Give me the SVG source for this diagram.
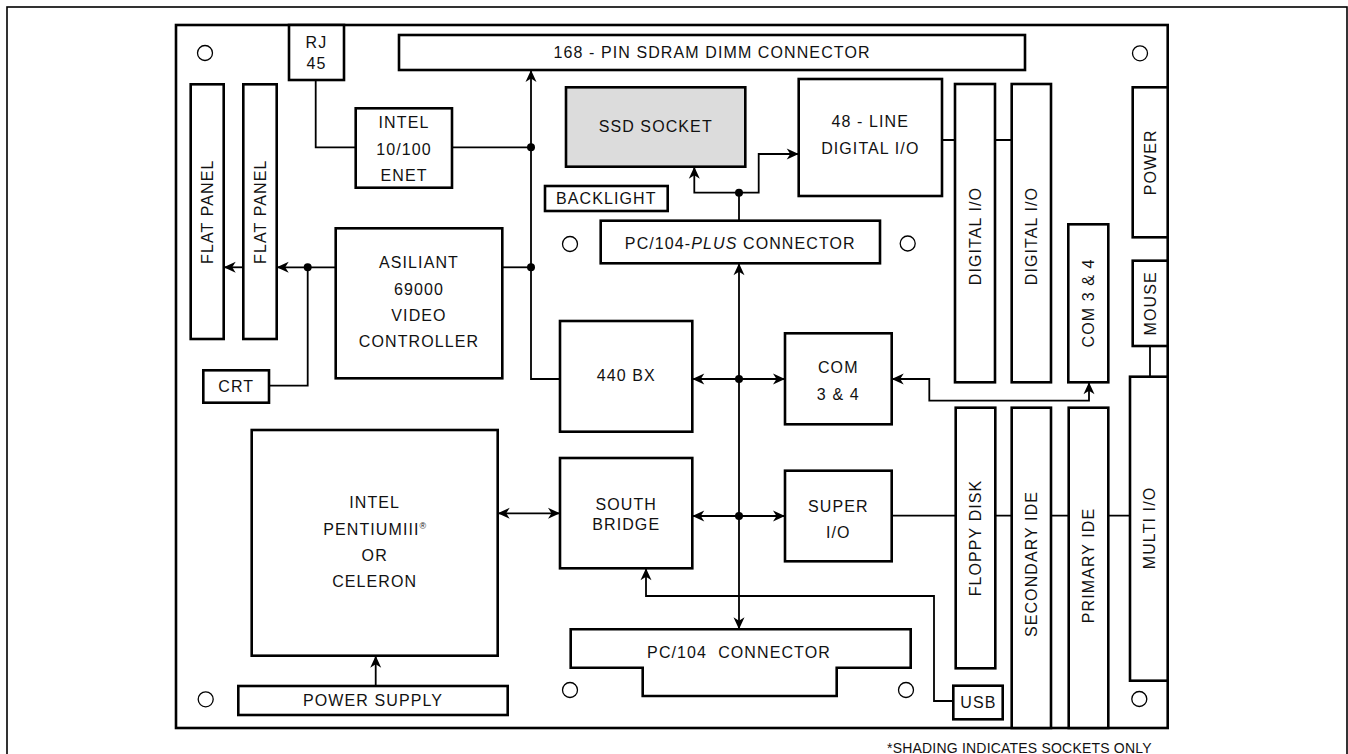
<svg xmlns="http://www.w3.org/2000/svg" width="1348" height="754" viewBox="0 0 1348 754">
<style>
.box{fill:#fff;stroke:#000;stroke-width:2.6}
.sock{fill:#dcdcdc;stroke:#000;stroke-width:2.6}
.hole{fill:#fff;stroke:#000;stroke-width:1.3}
.wire{fill:none;stroke:#000;stroke-width:1.8}
.dot{fill:#000}
text{font-family:"Liberation Sans",Arial,Helvetica,sans-serif;font-size:16px;letter-spacing:1.1px;fill:#111;text-anchor:middle}
.note{font-size:14px;letter-spacing:0.2px;text-anchor:start}
</style>
<defs>
<marker id="arr" viewBox="-13 -6 14 12" refX="0" refY="0" markerWidth="14" markerHeight="12" markerUnits="userSpaceOnUse" orient="auto-start-reverse">
<path d="M0,0 L-12,-5.5 L-8.5,0 L-12,5.5 Z" fill="#000"/>
</marker>
</defs>
<rect x="0" y="0" width="1348" height="754" fill="#fff"/>
<rect x="7" y="7" width="1340" height="800" fill="none" stroke="#000" stroke-width="1.6"/>
<g id="board">
<rect x="176" y="25" width="991.7" height="703" fill="#fff" stroke="#000" stroke-width="2.6"/>
<circle class="hole" cx="205" cy="53" r="7.5"/>
<circle class="hole" cx="1140" cy="53.3" r="7.5"/>
<circle class="hole" cx="570" cy="244" r="7.5"/>
<circle class="hole" cx="907.7" cy="243.5" r="7.5"/>
<circle class="hole" cx="205.7" cy="699.3" r="7.5"/>
<circle class="hole" cx="570" cy="690" r="7.5"/>
<circle class="hole" cx="906" cy="690" r="7.5"/>
<circle class="hole" cx="1139.3" cy="699" r="7.5"/>
</g>
<g id="connectors">
<path class="wire" d="M315.7,80 V147.3 H355.7"/>
<path class="wire" d="M452,147.3 H531"/>
<path class="wire" d="M560,379 H531 V70" marker-end="url(#arr)"/>
<path class="wire" d="M502.3,267.3 H531"/>
<path class="wire" d="M335.7,267.3 H276.7" marker-end="url(#arr)"/>
<path class="wire" d="M243.3,267.3 H223.7" marker-end="url(#arr)"/>
<path class="wire" d="M269,385.7 H307.7 V267.3"/>
<path class="wire" d="M739,220.7 V192.7"/>
<path class="wire" d="M739,192.7 H694.3 V166.7" marker-end="url(#arr)"/>
<path class="wire" d="M739,192.7 H758.7 V154 H798.7" marker-end="url(#arr)"/>
<path class="wire" d="M942,140 H955 M995,140 H1011.7"/>
<path class="wire" d="M739,263.3 V629.3" marker-start="url(#arr)" marker-end="url(#arr)"/>
<path class="wire" d="M692.3,379 H785" marker-start="url(#arr)" marker-end="url(#arr)"/>
<path class="wire" d="M692.3,516 H785" marker-start="url(#arr)" marker-end="url(#arr)"/>
<path class="wire" d="M497.7,513.3 H560" marker-start="url(#arr)" marker-end="url(#arr)"/>
<path class="wire" d="M375.7,686 V655.7" marker-end="url(#arr)"/>
<path class="wire" d="M953.3,701 H934 V596 H646 V568.3" marker-end="url(#arr)"/>
<path class="wire" d="M891.7,379 H929.3 V400.7 H1089 V382.3" marker-start="url(#arr)" marker-end="url(#arr)"/>
<path class="wire" d="M891.7,515.7 H955.7 M995.3,515.7 H1011.7 M1051,515.7 H1068.7 M1108.3,515.7 H1130"/>
<path class="wire" d="M1150,346 V376.7"/>
<circle class="dot" cx="531" cy="147.3" r="4"/>
<circle class="dot" cx="531" cy="267.3" r="4"/>
<circle class="dot" cx="307.7" cy="267.3" r="4"/>
<circle class="dot" cx="739" cy="192.7" r="4"/>
<circle class="dot" cx="739" cy="379" r="4"/>
<circle class="dot" cx="739" cy="516" r="4"/>
</g>
<g id="rj45"><rect class="box" x="289" y="25" width="55" height="55"/><text x="316.5" y="47.7">RJ</text><text x="316.5" y="68.7">45</text></g>
<g id="sdram"><rect class="box" x="399" y="35" width="626" height="35"/><text x="712" y="57.7">168 - PIN SDRAM DIMM CONNECTOR</text></g>
<g id="enet"><rect class="box" x="355.7" y="108.3" width="96.3" height="79.4"/><text x="404" y="128.4">INTEL</text><text x="404" y="154.7">10/100</text><text x="404" y="180.7">ENET</text></g>
<g id="ssd"><rect class="sock" x="566" y="87.3" width="179.3" height="79.4"/><text x="655.7" y="132.4">SSD SOCKET</text></g>
<g id="dio48"><rect class="box" x="798.7" y="79" width="143.3" height="117"/><text x="870.3" y="127.4">48 - LINE</text><text x="870.3" y="154">DIGITAL I/O</text></g>
<g id="backlight"><rect class="box" x="545" y="186" width="122.7" height="25"/><text x="606.3" y="204.2">BACKLIGHT</text></g>
<g id="pc104plus"><rect class="box" x="600.7" y="220.7" width="279.3" height="42.6"/><text x="740.3" y="249">PC/104-<tspan font-style="italic">PLUS</tspan> CONNECTOR</text></g>
<g id="flatpanel1"><rect class="box" x="190.7" y="84.3" width="33" height="254.7"/><text transform="translate(207.2,211.7) rotate(-90)" x="0" y="5.7">FLAT PANEL</text></g>
<g id="flatpanel2"><rect class="box" x="243.3" y="84.3" width="33.4" height="254.7"/><text transform="translate(260,211.7) rotate(-90)" x="0" y="5.7">FLAT PANEL</text></g>
<g id="asiliant"><rect class="box" x="335.7" y="228.3" width="166.6" height="150"/><text x="419" y="268.4">ASILIANT</text><text x="419" y="295">69000</text><text x="419" y="321.4">VIDEO</text><text x="419" y="347.4">CONTROLLER</text></g>
<g id="crt"><rect class="box" x="203.3" y="370.3" width="65.7" height="32.4"/><text x="236.2" y="392.2">CRT</text></g>
<g id="bx440"><rect class="box" x="560" y="321" width="132.3" height="110.7"/><text x="626.2" y="380.7">440 BX</text></g>
<g id="com34"><rect class="box" x="785" y="333.3" width="106.7" height="91"/><text x="838.3" y="373.4">COM</text><text x="838.3" y="400">3 &amp; 4</text></g>
<g id="southbridge"><rect class="box" x="560" y="458" width="132.3" height="110.3"/><text x="626.2" y="509.7">SOUTH</text><text x="626.2" y="530">BRIDGE</text></g>
<g id="superio"><rect class="box" x="785" y="470.7" width="106.7" height="90.6"/><text x="838.3" y="512.4">SUPER</text><text x="838.3" y="538.4">I/O</text></g>
<g id="cpu"><rect class="box" x="251.7" y="430" width="246" height="225.7"/><text x="374.7" y="508">INTEL</text><text x="374.7" y="535">PENTIUMIII<tspan font-size="9" dy="-6" letter-spacing="0">®</tspan></text><text x="374.7" y="560.7">OR</text><text x="374.7" y="587.4">CELERON</text></g>
<g id="powersupply"><rect class="box" x="238.3" y="686" width="269.4" height="29"/><text x="373" y="706.2">POWER SUPPLY</text></g>
<g id="pc104"><path class="box" d="M570.7,629.3 H910.7 V667.7 H836.7 V696 H642.7 V667.7 H570.7 Z"/><text x="739" y="658.4" xml:space="preserve">PC/104  CONNECTOR</text></g>
<g id="usb"><rect class="box" x="953.3" y="685.7" width="49.4" height="33.6"/><text x="978.4" y="708.2">USB</text></g>
<g id="digitalio1"><rect class="box" x="955" y="84" width="40" height="298.3"/><text transform="translate(975,236) rotate(-90)" x="0" y="5.7">DIGITAL I/O</text></g>
<g id="digitalio2"><rect class="box" x="1011.7" y="84" width="39.3" height="298.3"/><text transform="translate(1031.3,236) rotate(-90)" x="0" y="5.7">DIGITAL I/O</text></g>
<g id="com34v"><rect class="box" x="1068.3" y="224.3" width="40" height="158"/><text transform="translate(1088.3,303) rotate(-90)" x="0" y="5.7">COM 3 &amp; 4</text></g>
<g id="power"><rect class="box" x="1132.7" y="87.3" width="35" height="150"/><text transform="translate(1150.2,162.3) rotate(-90)" x="0" y="5.7">POWER</text></g>
<g id="mouse"><rect class="box" x="1132.7" y="260.7" width="35" height="85.3"/><text transform="translate(1150.2,303.3) rotate(-90)" x="0" y="5.7">MOUSE</text></g>
<g id="multiio"><rect class="box" x="1130" y="376.7" width="37.7" height="304"/><text transform="translate(1148.8,528) rotate(-90)" x="0" y="5.7">MULTI I/O</text></g>
<g id="floppy"><rect class="box" x="955.7" y="407.7" width="39.6" height="260.6"/><text transform="translate(975.5,538) rotate(-90)" x="0" y="5.7">FLOPPY DISK</text></g>
<g id="secondaryide"><rect class="box" x="1011.7" y="407.7" width="39.3" height="320.3"/><text transform="translate(1031.3,564) rotate(-90)" x="0" y="5.7">SECONDARY IDE</text></g>
<g id="primaryide"><rect class="box" x="1068.7" y="407.7" width="39.6" height="320.3"/><text transform="translate(1088.5,565.5) rotate(-90)" x="0" y="5.7">PRIMARY IDE</text></g>
<g id="footnote"><text class="note" x="887" y="752.8">*SHADING INDICATES SOCKETS ONLY</text></g>
</svg>
